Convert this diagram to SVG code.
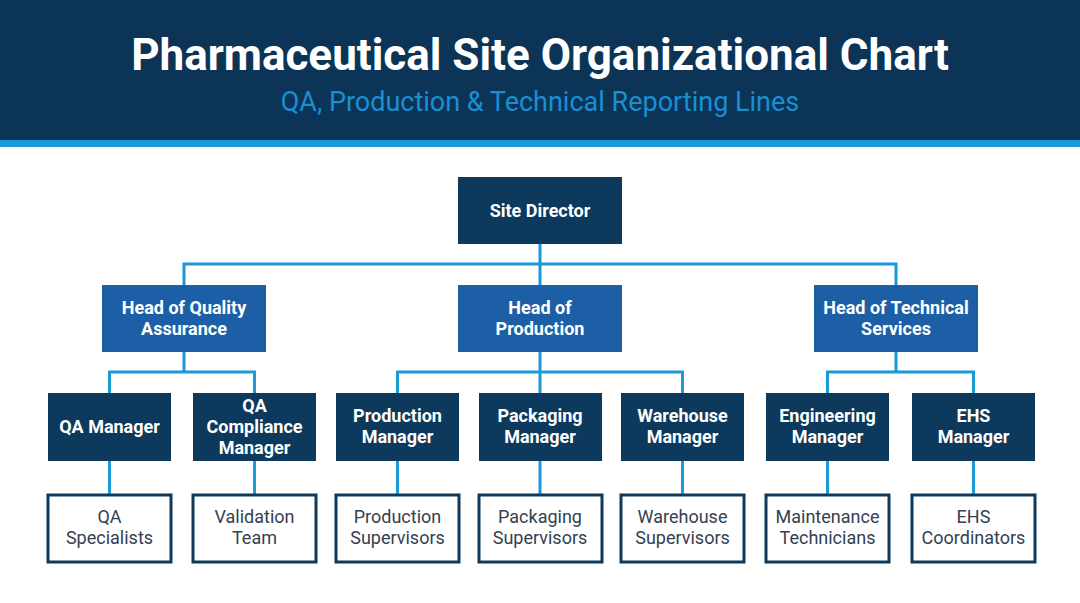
<svg xmlns="http://www.w3.org/2000/svg" width="1080" height="603" viewBox="0 0 1080 603">
<style>
text{font-family:Roboto,"Liberation Sans",sans-serif;text-anchor:middle}
.t{font-weight:700;fill:#fff;font-size:18px}
.l{fill:#33414f;font-size:18px}
.d{fill:#0d3a5c}
.m{fill:#1d5fa6}
.w{fill:#fff;stroke:#0d3a5c;stroke-width:3}
#c path{fill:none;stroke:#1a9ad6;stroke-width:3}
</style>
<rect width="1080" height="603" fill="#fff"/>
<rect width="1080" height="140" fill="#0b3457"/>
<rect y="140" width="1080" height="7" fill="#1a9ad6"/>
<text x="540" y="70" style="font-size:44px;font-weight:700;fill:#fff">Pharmaceutical Site Organizational Chart</text>
<text x="540" y="111" style="font-size:27px;fill:#1a8fd2">QA, Production &amp; Technical Reporting Lines</text>
<g id="c">
<path d="M540 244V264M184 285V264H896V285M540 264V285"/>
<path d="M184 352V372M109.5 393V372H254.5V393"/>
<path d="M540 352V393M397.5 393V372H682.5V393"/>
<path d="M896 352V372M827.5 393V372H973.5V393"/>
<path d="M109.5 461V494M254.5 461V494M397.5 461V494M540 461V494M682.5 461V494M827.5 461V494M973.5 461V494"/>
</g>
<g id="n0"><rect class="d" x="458" y="177" width="164" height="67"/><text class="t" x="540" y="217">Site Director</text></g>
<g id="n1"><rect class="m" x="102" y="285" width="164" height="67"/><text class="t" x="184" y="314">Head of Quality</text><text class="t" x="184" y="335">Assurance</text></g>
<g id="n2"><rect class="m" x="458" y="285" width="164" height="67"/><text class="t" x="540" y="314">Head of</text><text class="t" x="540" y="335">Production</text></g>
<g id="n3"><rect class="m" x="814" y="285" width="164" height="67"/><text class="t" x="896" y="314">Head of Technical</text><text class="t" x="896" y="335">Services</text></g>
<g id="n4"><rect class="d" x="48" y="393" width="123" height="68"/><text class="t" x="109.5" y="433">QA Manager</text></g>
<g id="n5"><rect class="d" x="193" y="393" width="123" height="68"/><text class="t" x="254.5" y="412">QA</text><text class="t" x="254.5" y="433">Compliance</text><text class="t" x="254.5" y="454">Manager</text></g>
<g id="n6"><rect class="d" x="336" y="393" width="123" height="68"/><text class="t" x="397.5" y="422">Production</text><text class="t" x="397.5" y="443">Manager</text></g>
<g id="n7"><rect class="d" x="479" y="393" width="123" height="68"/><text class="t" x="540" y="422">Packaging</text><text class="t" x="540" y="443">Manager</text></g>
<g id="n8"><rect class="d" x="621" y="393" width="123" height="68"/><text class="t" x="682.5" y="422">Warehouse</text><text class="t" x="682.5" y="443">Manager</text></g>
<g id="n9"><rect class="d" x="766" y="393" width="123" height="68"/><text class="t" x="827.5" y="422">Engineering</text><text class="t" x="827.5" y="443">Manager</text></g>
<g id="n10"><rect class="d" x="912" y="393" width="123" height="68"/><text class="t" x="973.5" y="422">EHS</text><text class="t" x="973.5" y="443">Manager</text></g>
<g id="n11"><rect class="w" x="48" y="495" width="123" height="67"/><text class="l" x="109.5" y="523">QA</text><text class="l" x="109.5" y="544">Specialists</text></g>
<g id="n12"><rect class="w" x="193" y="495" width="123" height="67"/><text class="l" x="254.5" y="523">Validation</text><text class="l" x="254.5" y="544">Team</text></g>
<g id="n13"><rect class="w" x="336" y="495" width="123" height="67"/><text class="l" x="397.5" y="523">Production</text><text class="l" x="397.5" y="544">Supervisors</text></g>
<g id="n14"><rect class="w" x="479" y="495" width="123" height="67"/><text class="l" x="540" y="523">Packaging</text><text class="l" x="540" y="544">Supervisors</text></g>
<g id="n15"><rect class="w" x="621" y="495" width="123" height="67"/><text class="l" x="682.5" y="523">Warehouse</text><text class="l" x="682.5" y="544">Supervisors</text></g>
<g id="n16"><rect class="w" x="766" y="495" width="123" height="67"/><text class="l" x="827.5" y="523">Maintenance</text><text class="l" x="827.5" y="544">Technicians</text></g>
<g id="n17"><rect class="w" x="912" y="495" width="123" height="67"/><text class="l" x="973.5" y="523">EHS</text><text class="l" x="973.5" y="544">Coordinators</text></g>
</svg>
